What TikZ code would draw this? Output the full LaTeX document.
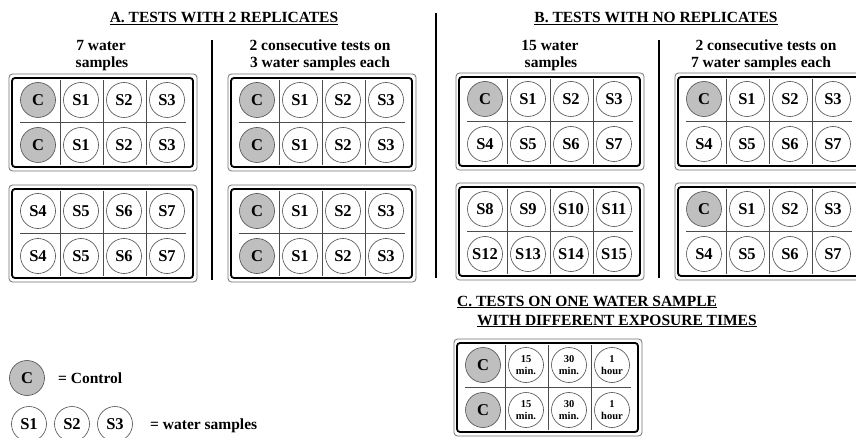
\documentclass[tikz,border=0pt]{standalone}
\usepackage{fontspec}
\setmainfont{Liberation Serif}
\tikzset{
 plateouter/.style={draw=black!55, line width=0.8pt, rounded corners=3.5pt},
 plateinner/.style={draw=black, line width=1.8pt, rounded corners=3pt},
 divider/.style={draw=black!70, line width=0.8pt},
 well/.style={circle, draw=black!70, line width=0.6pt, minimum size=35pt, inner sep=0pt, font=\fontsize{16.5}{16.5}\selectfont\bfseries},
 ctl/.style={well, fill=black!25},
 smp/.style={well, fill=white},
 tsmp/.style={well, fill=white, align=center, font=\fontsize{10.5}{12.5}\selectfont\bfseries},
 sepline/.style={draw=black, line width=1.6pt},
 heading/.style={anchor=base, font=\fontsize{15.5}{18}\selectfont\bfseries, inner sep=0pt},
 headingw/.style={heading, anchor=base west},
}
% #1 name, #2 ox, #3 oy, #4 row 1, #5 row 2
\newcommand{\wellplate}[5]{%
 \draw[plateouter] (#2,#3) rectangle ++(188,97);
 \draw[plateinner] (#2+3,#3+4) rectangle ++(181,89);
 \foreach \dx in {51,94,137} \draw[divider] (#2+\dx,#3+6) -- (#2+\dx,#3+91);
 \draw[divider] (#2+11,#3+48) -- (#2+177,#3+48);
 \foreach \st/\lab [count=\i] in {#4} \node[\st] (#1-a\i) at ({#2+29+43*(\i-1)},#3+26) {\lab};
 \foreach \st/\lab [count=\i] in {#5} \node[\st] (#1-b\i) at ({#2+29+43*(\i-1)},#3+71) {\lab};
}
\begin{document}
\begin{tikzpicture}[x=1pt,y=-1pt]
\clip (0,0) rectangle (856,438);
\fill[white] (0,0) rectangle (856,438);

% headings
\node[heading] (tA) at (224,22.5) {\underline{A. TESTS WITH 2 REPLICATES}};
\node[heading] (tB) at (656,22.5) {\underline{B. TESTS WITH NO REPLICATES}};
\node[heading] (sA1a) at (101,50.5) {7 water};
\node[heading] (sA1b) at (102,67.5) {samples};
\node[heading] (sA2a) at (320,50.5) {2 consecutive tests on};
\node[heading] (sA2b) at (320,67.5) {3 water samples each};
\node[heading] (sB1a) at (550,50.5) {15 water};
\node[heading] (sB1b) at (551,67.5) {samples};
\node[heading] (sB2a) at (766,50.5) {2 consecutive tests on};
\node[heading] (sB2b) at (761,67.5) {7 water samples each};
\node[headingw] (tC1) at (457,306) {\underline{C. TESTS ON ONE WATER SAMPLE}};
\node[headingw] (tC2) at (477,325) {\underline{WITH DIFFERENT EXPOSURE TIMES}};

% separators
\draw[sepline] (212,40) -- (212,280);
\draw[sepline] (436,13) -- (436,278);
\draw[sepline] (659,40) -- (659,278);

% plates
\wellplate{pA1}{9}{74}{ctl/C,smp/S1,smp/S2,smp/S3}{ctl/C,smp/S1,smp/S2,smp/S3}
\wellplate{pA2}{9}{185}{smp/S4,smp/S5,smp/S6,smp/S7}{smp/S4,smp/S5,smp/S6,smp/S7}
\wellplate{pA3}{228}{74}{ctl/C,smp/S1,smp/S2,smp/S3}{ctl/C,smp/S1,smp/S2,smp/S3}
\wellplate{pA4}{228}{185}{ctl/C,smp/S1,smp/S2,smp/S3}{ctl/C,smp/S1,smp/S2,smp/S3}
\wellplate{pB1}{456}{73}{ctl/C,smp/S1,smp/S2,smp/S3}{smp/S4,smp/S5,smp/S6,smp/S7}
\wellplate{pB2}{456}{183}{smp/S8,smp/S9,smp/S10,smp/S11}{smp/S12,smp/S13,smp/S14,smp/S15}
\wellplate{pB3}{675}{73}{ctl/C,smp/S1,smp/S2,smp/S3}{smp/S4,smp/S5,smp/S6,smp/S7}
\wellplate{pB4}{675}{183}{ctl/C,smp/S1,smp/S2,smp/S3}{smp/S4,smp/S5,smp/S6,smp/S7}
\wellplate{pC}{454}{339}{ctl/C,tsmp/{15\\min.},tsmp/{30\\min.},tsmp/{1\\hour}}{ctl/C,tsmp/{15\\min.},tsmp/{30\\min.},tsmp/{1\\hour}}

% legend
\node[ctl] (lgC) at (27,378) {C};
\node[headingw] (lgCt) at (58,383) {= Control};
\node[smp] (lgS1) at (29,424) {S1};
\node[smp] (lgS2) at (72,424) {S2};
\node[smp] (lgS3) at (115,424) {S3};
\node[headingw] (lgSt) at (150,429.5) {= water samples};
\end{tikzpicture}
\end{document}
